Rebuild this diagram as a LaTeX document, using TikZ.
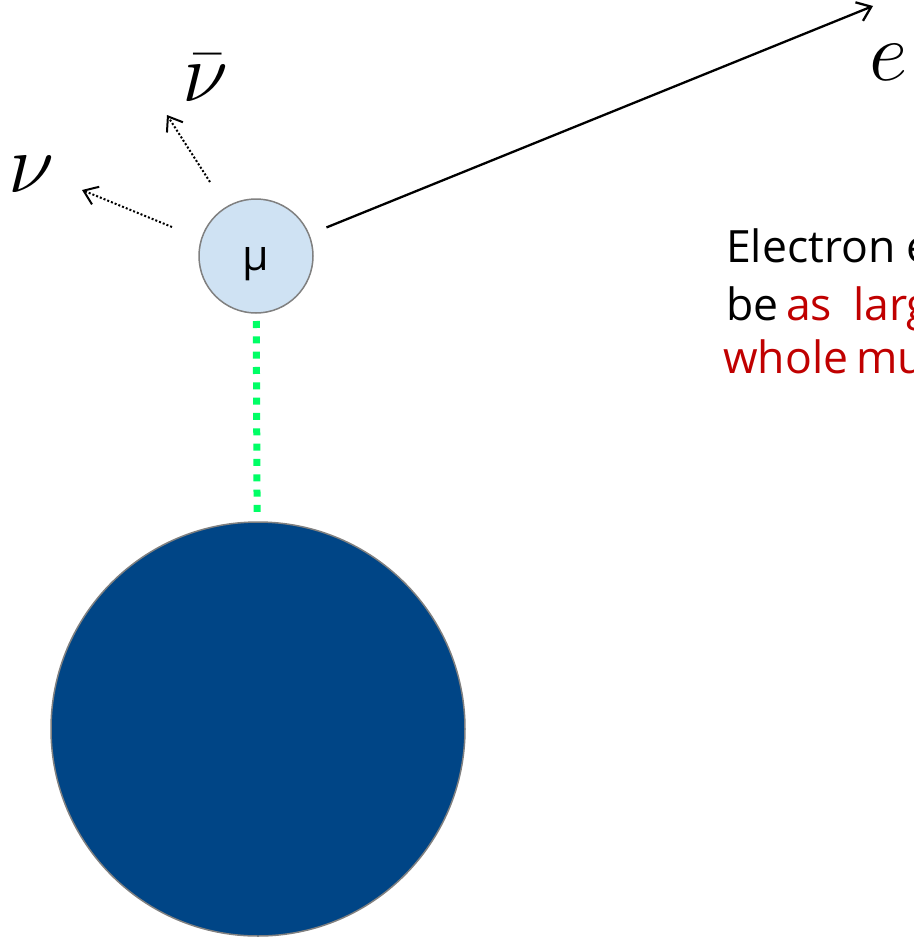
\RequirePackage{fix-cm}
\documentclass[tikz,border=0pt]{standalone}
\usepackage{fontspec}
\newfontfamily\bodyfont{Open Sans}
\usetikzlibrary{arrows.meta}
\definecolor{mulight}{RGB}{207,226,243}
\definecolor{nucleuscol}{RGB}{0,69,134}
\definecolor{ringgray}{RGB}{128,128,128}
\definecolor{bondgreen}{RGB}{0,255,102}
\definecolor{txtred}{RGB}{192,0,0}
\begin{document}
\begin{tikzpicture}[x=1pt,y=-1pt,
  particle/.style={circle,draw=ringgray,line width=1.5pt,inner sep=0pt,outer sep=0pt},
  mathlbl/.style={inner sep=0pt,font=\fontsize{84}{84}\selectfont},
  bodytext/.style={anchor=base west,inner sep=0pt,font=\bodyfont\fontsize{44.5}{52}\selectfont},
  nuarrow/.style={line width=2pt,dash pattern=on 2pt off 2pt,
    -{Straight Barb[length=13pt,width=19pt,line width=2pt]}},
  earrow/.style={line width=2.3pt,shorten <=19pt,
    -{Straight Barb[length=13pt,width=20pt,line width=2.3pt]}},
  bond/.style={bondgreen,line width=7pt,dash pattern=on 7pt off 8.33pt,
    shorten <=8pt,shorten >=8pt}
]
\useasboundingbox (0,0) rectangle (913,937);
\clip (0,0) rectangle (913,937);

% bodies
\node[particle,fill=nucleuscol,minimum size=414pt] (nucleus) at (258,729) {};
\node[particle,fill=mulight,minimum size=114pt] (mu) at (256,256) {};
\node[inner sep=0pt,font=\bodyfont\fontsize{43}{43}\selectfont] (mulabel) at (256,264) {μ};

% bond
\draw[bond] (mu) -- (nucleus);

% decay products
\coordinate (etip) at (873,6);
\draw[earrow] (mu) -- (etip);
\node[mathlbl,anchor=center] (elabel) at (889,62) {$e$};

\coordinate (nustart) at (172,227);
\coordinate (nutip) at (82,190);
\draw[nuarrow] (nustart) -- (nutip);
\node[mathlbl] (nulabel) at (31,174) {$\nu$};

\coordinate (nubarstart) at (210,182);
\coordinate (nubartip) at (167,115);
\draw[nuarrow] (nubarstart) -- (nubartip);
\node[mathlbl] (nubarlabel) at (205,78) {$\bar\nu$};

% text (cut by the right edge)
\node[bodytext] (t1a) at (726,262) {Electron};
\node[bodytext] (t1b) at (906,262) {e};
\node[bodytext] (t2a) at (726,320) {be};
\node[bodytext,text=txtred] (t2b) at (786,320) {as};
\node[bodytext,text=txtred] (t2c) at (853,320) {larg};
\node[bodytext,text=txtred] (t3a) at (723,373) {whole};
\node[bodytext,text=txtred] (t3b) at (856,373) {mu};
\end{tikzpicture}
\end{document}
